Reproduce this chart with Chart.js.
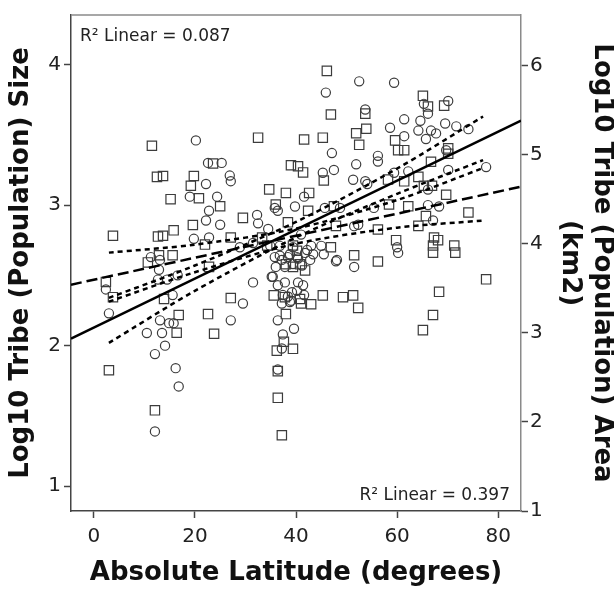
<!DOCTYPE html>
<html>
<head>
<meta charset="utf-8">
<script src="https://cdn.jsdelivr.net/npm/chart.js@4.4.1/dist/chart.umd.min.js"></script>
<style>
  html, body { margin: 0; padding: 0; background: #fff; }
  #wrap { width: 614px; height: 589px; }
</style>
</head>
<body>
<div id="wrap"><canvas id="c" width="614" height="589"></canvas></div>
<script>
// tick labels
const latTicks = [0, 20, 40, 60, 80];
const sizeTicks = [1, 2, 3, 4];
const areaTicks = [1, 2, 3, 4, 5, 6];
const r2Labels = ['R\u00b2 Linear = 0.087', 'R\u00b2 Linear = 0.397'];

// circles: log10 size (left axis)
const circleLat = [20.2, 22.6, 25.3, 26.9, 22.2, 19.0, 24.4, 22.8, 22.2, 25.0, 19.8, 22.8, 11.3, 13.1, 12.9, 12.7, 16.6, 2.4, 3.0, 15.6,
  13.1, 14.9, 15.8, 10.5, 13.5, 14.1, 12.1, 16.2, 16.8, 12.1, 52.5, 45.9, 53.7, 47.1, 51.9, 47.5, 45.3, 51.3, 53.7, 27.1,
  41.6, 39.8, 36.4, 51.5, 32.5, 41.0, 43.0, 45.0, 52.3, 59.4, 65.3, 66.1, 70.1, 61.4, 58.6, 64.2, 64.6, 66.7, 67.7, 65.7,
  69.5, 71.7, 74.1, 61.4, 69.7, 56.2, 56.2, 77.6, 70.1, 59.4, 62.2, 66.1, 66.1, 68.3, 55.4, 67.1, 60.0, 35.8, 37.2, 38.8,
  40.4, 41.8, 42.8, 36.0, 47.9, 51.5, 45.5, 31.5, 35.4, 36.4, 40.4, 41.4, 40.2, 37.4, 38.4, 39.0, 41.6, 29.5, 27.1, 36.4,
  39.6, 37.4, 37.2, 36.4, 60.2, 35.8, 45.7, 48.7, 34.9, 36.8, 39.4, 42.2, 43.4, 36.8, 38.4, 40.2, 37.8, 39.4, 41.2, 48.1,
  35.2, 37.8, 39.2, 38.8, 37.2, 28.9, 31.5, 34.5, 32.3, 54.1, 14.5];
const circleSize = [3.46, 3.30, 3.30, 3.21, 3.15, 3.06, 3.06, 2.96, 2.89, 2.86, 2.76, 2.77, 2.63, 2.61, 2.54, 2.47, 2.50, 2.40, 2.23, 2.36,
  2.18, 2.16, 2.16, 2.09, 2.09, 2.00, 1.94, 1.84, 1.71, 1.39, 3.88, 3.80, 3.68, 3.37, 3.29, 3.25, 3.23, 3.18, 3.17, 3.17,
  3.06, 2.99, 2.96, 2.85, 2.87, 2.79, 2.71, 2.71, 2.86, 3.87, 3.72, 3.65, 3.74, 3.61, 3.55, 3.53, 3.60, 3.53, 3.51, 3.47,
  3.58, 3.56, 3.54, 3.49, 3.39, 3.35, 3.31, 3.27, 3.25, 3.23, 3.24, 3.11, 3.00, 2.99, 2.98, 2.89, 2.70, 2.63, 2.61, 2.65,
  2.62, 2.66, 2.61, 2.56, 2.60, 2.56, 2.65, 2.45, 2.49, 2.43, 2.45, 2.43, 2.39, 2.36, 2.35, 2.32, 2.36, 2.30, 2.18, 2.18,
  2.12, 2.08, 1.98, 1.83, 2.66, 2.98, 2.98, 2.98, 2.71, 2.71, 2.70, 2.68, 2.65, 2.64, 2.63, 2.63, 2.56, 2.58, 2.57, 2.61,
  2.49, 2.45, 2.38, 2.31, 2.30, 2.70, 2.73, 2.83, 2.93, 3.15, 2.47];

// squares: log10 area km2 (right axis)
const squareLat = [11.5, 23.6, 12.5, 13.7, 19.8, 19.2, 20.8, 15.2, 19.6, 3.8, 12.7, 13.7, 15.8, 25.0, 10.7, 12.9, 15.6, 2.4, 3.8, 13.9,
  22.8, 16.8, 22.6, 16.4, 23.8, 3.0, 12.1, 46.1, 46.9, 53.7, 32.5, 41.6, 45.3, 51.9, 53.9, 52.5, 39.0, 40.4, 41.4, 45.5,
  34.7, 38.0, 42.6, 36.0, 42.4, 47.5, 47.9, 29.5, 27.1, 38.4, 39.4, 46.9, 65.1, 66.1, 69.3, 59.6, 60.2, 61.4, 70.1, 70.1,
  66.7, 58.2, 61.4, 64.2, 65.3, 66.9, 69.7, 62.2, 58.4, 65.7, 74.1, 64.2, 56.2, 59.8, 67.3, 68.1, 67.1, 71.3, 38.0, 39.4,
  40.8, 41.8, 51.5, 35.6, 41.0, 43.0, 45.3, 49.3, 51.3, 52.3, 27.1, 38.0, 37.6, 36.2, 39.4, 36.4, 36.4, 37.2, 56.2, 77.6,
  68.3, 67.1, 65.1, 67.1, 71.5, 40.2, 34.3, 37.8, 40.8, 33.3, 22.0];
const squareArea = [5.10, 4.90, 4.75, 4.76, 4.76, 4.65, 4.51, 4.50, 4.21, 4.09, 4.08, 4.09, 4.15, 4.42, 3.79, 3.87, 3.87, 3.57, 3.40, 3.38,
  3.74, 3.20, 3.21, 3.00, 2.99, 2.58, 2.13, 5.94, 5.45, 5.46, 5.19, 5.17, 5.19, 5.24, 5.29, 5.11, 4.88, 4.87, 4.80, 4.71,
  4.61, 4.57, 4.57, 4.44, 4.37, 4.42, 4.20, 4.29, 4.07, 4.24, 3.98, 3.96, 5.66, 5.54, 5.55, 5.16, 5.05, 5.05, 5.07, 5.01,
  4.92, 4.72, 4.70, 4.75, 4.65, 4.65, 4.55, 4.42, 4.44, 4.31, 4.35, 4.20, 4.16, 4.04, 4.07, 4.04, 3.98, 3.98, 3.77, 3.74,
  3.77, 3.70, 3.87, 3.42, 3.33, 3.32, 3.42, 3.40, 3.42, 3.28, 3.39, 3.21, 2.90, 2.80, 2.82, 2.57, 2.27, 1.85, 3.80, 3.60,
  3.46, 3.20, 3.03, 3.90, 3.90, 3.92, 3.98, 3.40, 3.38, 4.07, 3.99];

// fit lines and 95% bands
const fitLat = [-4.5, 84.5];
const sizeFit = [2.05, 3.60];
const areaFit = [3.54, 4.64];
const bandLat = [3, 20, 40, 60, 77];
const sizeUpper = [2.34, 2.57, 2.88, 3.26, 3.63];
const sizeLower = [2.02, 2.39, 2.77, 3.08, 3.32];
const areaUpper = [3.90, 3.99, 4.17, 4.49, 4.85];
const areaLower = [3.35, 3.68, 4.00, 4.18, 4.26];

const pts = (xs, ys) => xs.map((x, i) => ({ x: x, y: ys[i] }));

const FONT = '"DejaVu Sans", sans-serif';
const tickFont = { family: FONT, size: 20 };
const titleFont = { family: FONT, size: 26, weight: 'bold', lineHeight: 1.2 };

function lineSet(data, axis, dash) {
  return {
    data: data, yAxisID: axis, showLine: true, pointRadius: 0,
    borderColor: '#000', borderWidth: 2.5, borderDash: dash,
    fill: false, tension: 0.3
  };
}

const framePlugin = {
  id: 'frame',
  afterDraw(chart) {
    const { ctx, chartArea: a } = chart;
    ctx.save();
    ctx.strokeStyle = '#8a8a8a';
    ctx.lineWidth = 1.5;
    ctx.beginPath();
    ctx.moveTo(a.left, a.top);
    ctx.lineTo(a.right, a.top);
    ctx.stroke();
    ctx.font = '17px ' + FONT;
    ctx.fillStyle = '#222';
    ctx.textBaseline = 'middle';
    ctx.textAlign = 'left';
    ctx.fillText(r2Labels[0], a.left + 9, a.top + 22);
    ctx.textAlign = 'right';
    ctx.fillText(r2Labels[1], a.right - 11, a.bottom - 15);
    ctx.restore();
  }
};

new Chart(document.getElementById('c'), {
  type: 'scatter',
  data: {
    datasets: [
      lineSet(pts(fitLat, sizeFit), 'y', []),
      lineSet(pts(fitLat, areaFit), 'y2', [11, 5]),
      lineSet(pts(bandLat, sizeUpper), 'y', [5, 4]),
      lineSet(pts(bandLat, sizeLower), 'y', [5, 4]),
      lineSet(pts(bandLat, areaUpper), 'y2', [5, 4]),
      lineSet(pts(bandLat, areaLower), 'y2', [5, 4]),
      {
        data: pts(circleLat, circleSize), yAxisID: 'y',
        pointStyle: 'circle', pointRadius: 4.6, borderWidth: 1.2,
        borderColor: '#3c3c3c', backgroundColor: 'rgba(0,0,0,0)'
      },
      {
        data: pts(squareLat, squareArea), yAxisID: 'y2',
        pointStyle: 'rect', pointRadius: 6.6, borderWidth: 1.2,
        borderColor: '#3c3c3c', backgroundColor: 'rgba(0,0,0,0)'
      }
    ]
  },
  options: {
    responsive: false,
    animation: false,
    layout: { padding: { top: 10, left: 0, right: 0, bottom: 0 } },
    plugins: { legend: { display: false }, tooltip: { enabled: false } },
    scales: {
      x: {
        type: 'linear', min: -4.5, max: 84.5,
        afterBuildTicks: (s) => { s.ticks = latTicks.map(v => ({ value: v })); },
        afterFit: (s) => { s.height = 78; },
        grid: { drawOnChartArea: false, tickLength: 7, color: '#444', tickWidth: 1.5 },
        border: { color: '#444', width: 1.5 },
        ticks: { font: tickFont, color: '#222', padding: 7 },
        title: { display: true, text: 'Absolute Latitude (degrees)', font: titleFont, color: '#111', padding: { top: 0, bottom: 0 } }
      },
      y: {
        type: 'linear', position: 'left', min: 0.824, max: 4.352,
        afterBuildTicks: (s) => { s.ticks = sizeTicks.map(v => ({ value: v })); },
        afterFit: (s) => { s.width = 71; },
        grid: { drawOnChartArea: false, tickLength: 7, color: '#444', tickWidth: 1.5 },
        border: { color: '#444', width: 1.5 },
        ticks: { font: tickFont, color: '#222', padding: 3 },
        title: { display: true, text: 'Log10 Tribe (Population) Size', font: titleFont, color: '#111', padding: { top: 6, bottom: 0 } }
      },
      y2: {
        type: 'linear', position: 'right', min: 1, max: 6.567,
        afterBuildTicks: (s) => { s.ticks = areaTicks.map(v => ({ value: v })); },
        afterFit: (s) => { s.width = 93; },
        grid: { drawOnChartArea: false, tickLength: 7, color: '#444', tickWidth: 1.5 },
        border: { color: '#8a8a8a', width: 1.5 },
        ticks: { font: tickFont, color: '#222', padding: 2 },
        title: { display: true, text: ['Log10 Tribe (Population) Area', '(km2)'], font: titleFont, color: '#111', padding: { top: -3, bottom: 0 } }
      }
    }
  },
  plugins: [framePlugin]
});
</script>
</body>
</html>
